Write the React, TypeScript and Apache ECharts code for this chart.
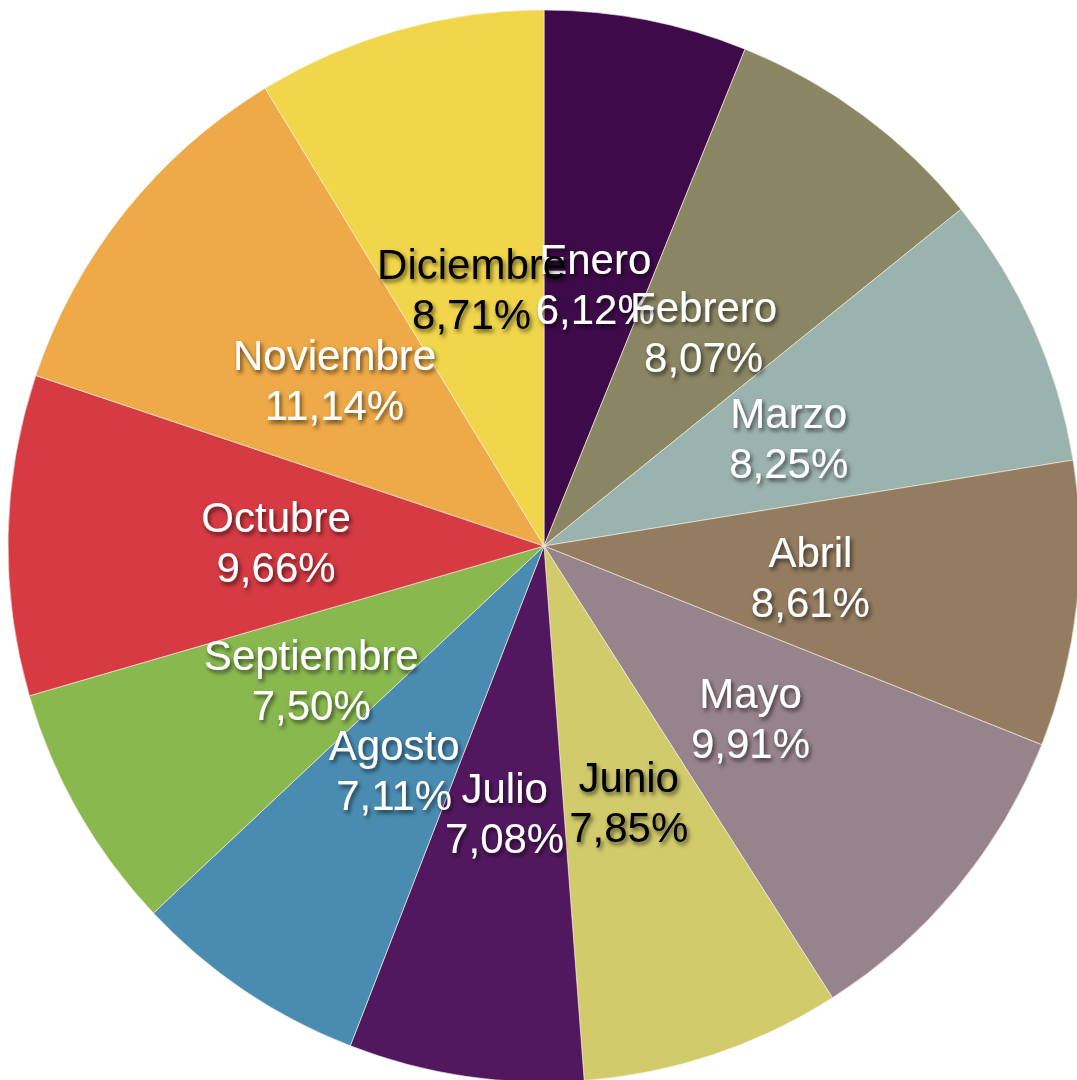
import React, { useEffect, useRef } from "react";
import * as echarts from "echarts";

const categories = ["Enero", "Febrero", "Marzo", "Abril", "Mayo", "Junio", "Julio", "Agosto", "Septiembre", "Octubre", "Noviembre", "Diciembre"];
const values = [6.12, 8.07, 8.25, 8.61, 9.91, 7.85, 7.08, 7.11, 7.5, 9.66, 11.14, 8.71];
const colors = ["#3E0A49", "#8A8562", "#9BB3AF", "#937C5F", "#97838B", "#D2CB6B", "#52185F", "#4A8CB1", "#89B84F", "#D63A43", "#EEA948", "#F1D64B"];
const darkLabels = ["Junio", "Diciembre"];

export default function App() {
  const ref = useRef<HTMLDivElement>(null);
  useEffect(() => {
    if (!ref.current) return;
    const chart = echarts.init(ref.current, null, { renderer: "svg" });
    chart.setOption({
      animation: false,
      series: [
        {
          type: "pie",
          center: [544, 546],
          radius: 536,
          startAngle: 90,
          clockwise: true,
          label: { show: false },
          labelLine: { show: false },
          emphasis: { disabled: true },
          itemStyle: { borderColor: "rgba(245,240,220,0.8)", borderWidth: 0.8 },
          data: categories.map((c, i) => ({ name: c, value: values[i], itemStyle: { color: colors[i] } })),
        },
      ],
    });
    // Place labels at the middle of each sector using the library's own layout
    const data = (chart as any).getModel().getSeriesByIndex(0).getData();
    const texts: any[] = [];
    for (let i = 0; i < data.count(); i++) {
      const l = data.getItemLayout(i);
      const mid = (l.startAngle + l.endAngle) / 2;
      const rr = (l.r + (l.r0 || 0)) / 2;
      const name = data.getName(i);
      const val = data.get("value", i) as number;
      const dark = darkLabels.includes(name);
      texts.push({
        type: "text",
        x: l.cx + rr * Math.cos(mid),
        y: l.cy + rr * Math.sin(mid) + 2,
        silent: true,
        z: 100,
        style: {
          text: `${name}\n${val.toFixed(2).replace(".", ",")}%`,
          fill: dark ? "#000" : "#fff",
          fontFamily: "Liberation Sans, Arial, sans-serif",
          fontSize: 42,
          lineHeight: 50,
          align: "center",
          verticalAlign: "middle",
          textShadowColor: "rgba(0,0,0,0.6)",
          textShadowBlur: 4,
          textShadowOffsetX: 2,
          textShadowOffsetY: 3,
        },
      });
    }
    chart.setOption({ graphic: texts });
    return () => chart.dispose();
  }, []);
  return <div ref={ref} style={{ position: "absolute", left: 0, top: 0, width: 1077, height: 1080 }} />;
}
